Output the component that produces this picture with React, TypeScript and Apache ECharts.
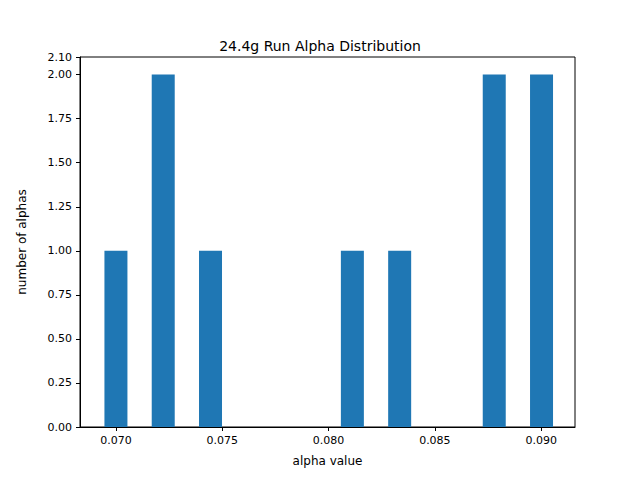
import React, { useEffect, useRef } from 'react';
import * as echarts from 'echarts';

const binCenters = [0.07, 0.072224, 0.074448, 0.076672, 0.078896, 0.08112, 0.083344, 0.085568, 0.087792, 0.090016];
const counts = [1, 2, 1, 0, 0, 1, 1, 0, 2, 2];
const xTicks = [0.07, 0.075, 0.08, 0.085, 0.09];

const App: React.FC = () => {
  const chartRef = useRef<HTMLDivElement>(null);

  useEffect(() => {
    if (!chartRef.current) return;
    const chart = echarts.init(chartRef.current, undefined, { renderer: 'svg' });
    const font = 'DejaVu Sans';
    chart.setOption({
      animation: false,
      textStyle: { fontFamily: font },
      title: {
        text: '24.4g Run Alpha Distribution',
        left: 'center',
        top: 34,
        textStyle: { fontFamily: font, fontSize: 14, fontWeight: 'normal', color: '#000' }
      },
      grid: { left: 80, right: 65, top: 57, bottom: 53 },
      xAxis: {
        type: 'value',
        min: 0.06831,
        max: 0.09159,
        name: 'alpha value',
        nameLocation: 'middle',
        nameGap: 28,
        nameTextStyle: { color: '#000', fontSize: 12 },
        axisLine: { onZero: false, lineStyle: { color: '#000' } },
        axisTick: { show: true, customValues: xTicks, length: 4, lineStyle: { color: '#000' } },
        axisLabel: {
          customValues: xTicks,
          color: '#000',
          fontSize: 11,
          formatter: (v: number) => v.toFixed(3)
        },
        splitLine: { show: false }
      },
      yAxis: {
        type: 'value',
        min: 0,
        max: 2.1,
        interval: 0.25,
        name: 'number of alphas',
        nameLocation: 'middle',
        nameGap: 52,
        nameTextStyle: { color: '#000', fontSize: 12 },
        axisLine: { show: true, lineStyle: { color: '#000' } },
        axisTick: { show: true, length: 4, lineStyle: { color: '#000' } },
        axisLabel: { color: '#000', fontSize: 11, formatter: (v: number) => v.toFixed(2) },
        splitLine: { show: false }
      },
      graphic: [
        {
          type: 'rect',
          shape: { x: 80, y: 57, width: 495, height: 370 },
          style: { fill: 'none', stroke: '#000', lineWidth: 1 },
          silent: true
        }
      ],
      series: [
        {
          type: 'bar',
          barWidth: 23,
          itemStyle: { color: '#1f77b4' },
          data: binCenters.map((c, i) => [c, counts[i]])
        }
      ]
    });
    return () => chart.dispose();
  }, []);

  return (
    <div
      ref={chartRef}
      style={{ position: 'fixed', left: 0, top: 0, width: '640px', height: '480px', background: '#fff' }}
    />
  );
};

export default App;
